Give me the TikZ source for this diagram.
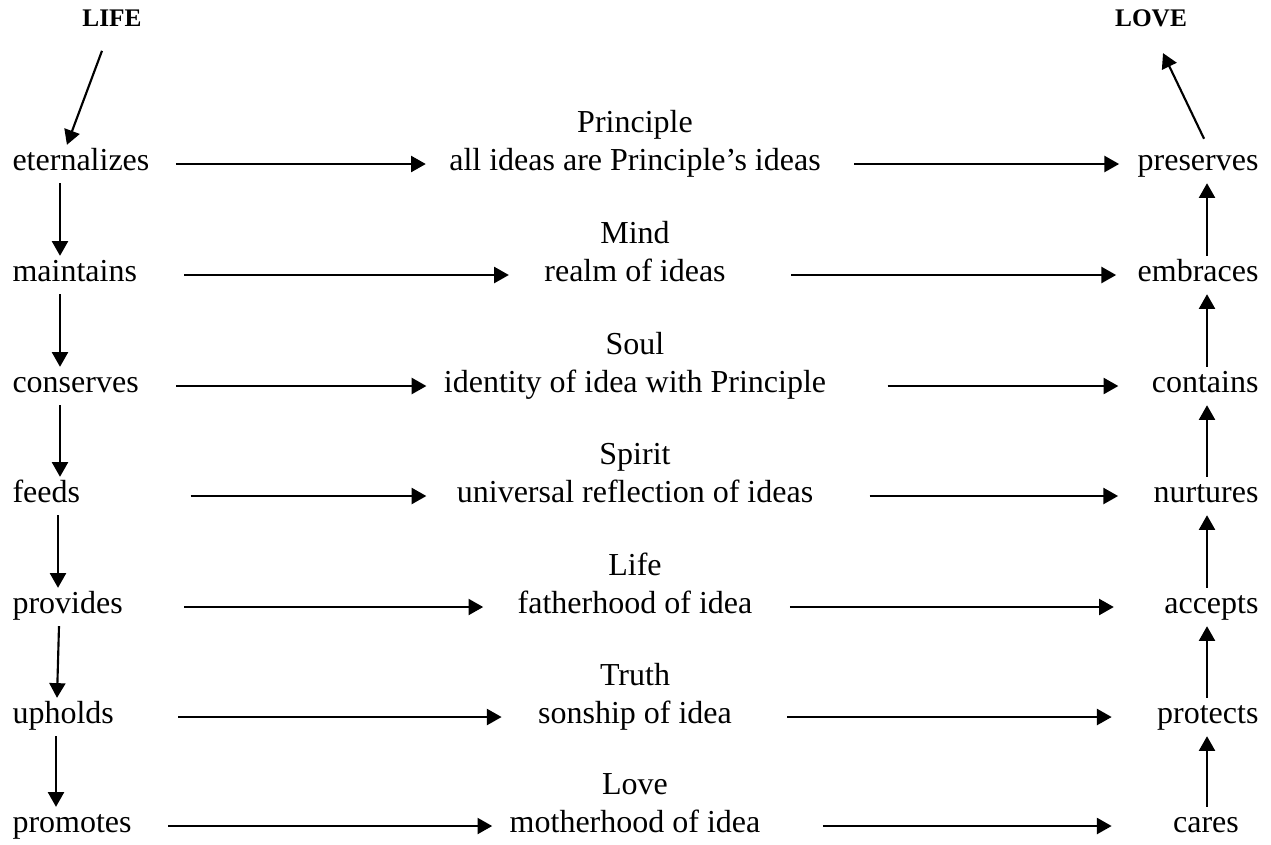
\documentclass[tikz,border=0pt]{standalone}
\usepackage{fontspec}
\setmainfont{Liberation Serif}
\usetikzlibrary{arrows.meta,calc,positioning}

\begin{document}
\begin{tikzpicture}[x=0.375pt,y=-0.375pt,
    word/.style={inner xsep=0pt,inner ysep=1.5pt,text height=8pt,text depth=3pt,font=\fontsize{12}{14}\selectfont},
    head/.style={inner sep=0pt,font=\fontsize{9.5}{11}\selectfont\bfseries},
    arr/.style={line width=0.8pt,-{Triangle[length=5.5pt,width=6pt]}}]
        \fill[white] (0,0) rectangle (1271,844);
        \useasboundingbox (0,0) rectangle (1271,844);
        \coordinate (lcol) at (60,0);
        \coordinate (rcol) at (1207,0);

        \node[head] (lifeTop) at (112,18) {LIFE};
        \node[head] (loveTop) at (1151,18) {LOVE};

        % left column
        \node[word,anchor=west] (eternalizes) at (12,164) {eternalizes};
        \node[word,anchor=west] (maintains) at (12,275) {maintains};
        \node[word,anchor=west] (conserves) at (12,386) {conserves};
        \node[word,anchor=west] (feeds) at (12,496) {feeds};
        \node[word,anchor=west] (provides) at (12,607) {provides};
        \node[word,anchor=west] (upholds) at (12,717) {upholds};
        \node[word,anchor=west] (promotes) at (12,826) {promotes};

        % middle column
        \node[word] (principleDef) at (635,164) {all ideas are Principle’s ideas};
        \node[word] (mindDef) at (635,275) {realm of ideas};
        \node[word] (soulDef) at (635,386) {identity of idea with Principle};
        \node[word] (spiritDef) at (635,496) {universal reflection of ideas};
        \node[word] (lifeDef) at (635,607) {fatherhood of idea};
        \node[word] (truthDef) at (635,717) {sonship of idea};
        \node[word] (loveDef) at (635,826) {motherhood of idea};
        \node[word,above=0pt of principleDef] (principle) {Principle};
        \node[word,above=0pt of mindDef] (mind) {Mind};
        \node[word,above=0pt of soulDef] (soul) {Soul};
        \node[word,above=0pt of spiritDef] (spirit) {Spirit};
        \node[word,above=0pt of lifeDef] (life) {Life};
        \node[word,above=0pt of truthDef] (truth) {Truth};
        \node[word,above=0pt of loveDef] (love) {Love};

        % right column
        \node[word,anchor=east] (preserves) at (1259,164) {preserves};
        \node[word,anchor=east] (embraces) at (1259,275) {embraces};
        \node[word,anchor=east] (contains) at (1259,386) {contains};
        \node[word,anchor=east] (nurtures) at (1259,496) {nurtures};
        \node[word,anchor=east] (accepts) at (1259,607) {accepts};
        \node[word,anchor=east] (protects) at (1259,717) {protects};
        \node[word] (cares) at (1206,826) {cares};

        \draw[arr] ($(lifeTop.south)+(-10,24)$) -- ($(eternalizes.north)+(-14,0)$);
        \draw[arr] ($(preserves.north)+(6,-6)$) -- ($(loveTop.south)+(12,26)$);

        \draw[arr] (eternalizes.south -| lcol) -- (maintains.north -| lcol);
        \draw[arr] (maintains.south -| lcol) -- (conserves.north -| lcol);
        \draw[arr] (conserves.south -| lcol) -- (feeds.north -| lcol);
        \draw[arr] ($(feeds.south -| lcol)+(-2,0)$) -- ($(provides.north -| lcol)+(-2,0)$);
        \draw[arr] ($(provides.south -| lcol)+(-1,0)$) -- ($(upholds.north -| lcol)+(-3,0)$);
        \draw[arr] ($(upholds.south -| lcol)+(-4,0)$) -- ($(promotes.north -| lcol)+(-4,0)$);

        \draw[arr] ($(eternalizes.east)+(26,0)$) -- ($(principleDef.west)+(-23,0)$);
        \draw[arr] ($(principleDef.east)+(33,0)$) -- ($(preserves.west)+(-18,0)$);
        \draw[arr] ($(maintains.east)+(47,0)$) -- ($(mindDef.west)+(-35,0)$);
        \draw[arr] ($(mindDef.east)+(65,0)$) -- ($(embraces.west)+(-21,0)$);
        \draw[arr] ($(conserves.east)+(37,0)$) -- ($(soulDef.west)+(-17,0)$);
        \draw[arr] ($(soulDef.east)+(61,0)$) -- ($(contains.west)+(-33,0)$);
        \draw[arr] ($(feeds.east)+(110,0)$) -- ($(spiritDef.west)+(-30,0)$);
        \draw[arr] ($(spiritDef.east)+(56,0)$) -- ($(nurtures.west)+(-35,0)$);
        \draw[arr] ($(provides.east)+(61,0)$) -- ($(lifeDef.west)+(-34,0)$);
        \draw[arr] ($(lifeDef.east)+(37,0)$) -- ($(accepts.west)+(-50,0)$);
        \draw[arr] ($(upholds.east)+(64,0)$) -- ($(truthDef.west)+(-36,0)$);
        \draw[arr] ($(truthDef.east)+(55,0)$) -- ($(protects.west)+(-45,0)$);
        \draw[arr] ($(promotes.east)+(36,0)$) -- ($(loveDef.west)+(-17,0)$);
        \draw[arr] ($(loveDef.east)+(62,0)$) -- ($(cares.west)+(-61,0)$);

        \draw[arr] (embraces.north -| rcol) -- (preserves.south -| rcol);
        \draw[arr] (contains.north -| rcol) -- (embraces.south -| rcol);
        \draw[arr] (nurtures.north -| rcol) -- (contains.south -| rcol);
        \draw[arr] (accepts.north -| rcol) -- (nurtures.south -| rcol);
        \draw[arr] (protects.north -| rcol) -- (accepts.south -| rcol);
        \draw[arr] (cares.north -| rcol) -- (protects.south -| rcol);
\end{tikzpicture}
\end{document}
